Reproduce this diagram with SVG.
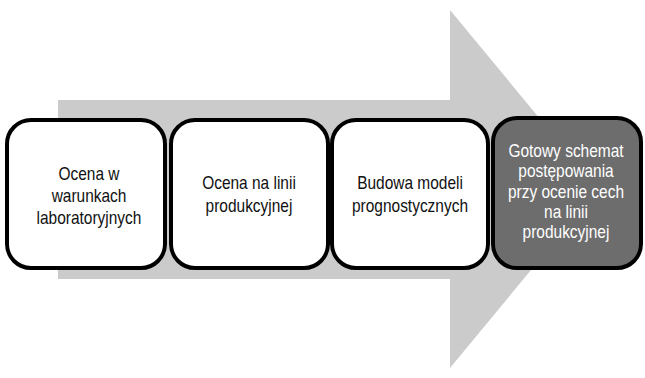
<svg xmlns="http://www.w3.org/2000/svg" width="645" height="378" viewBox="0 0 645 378">
<style>
.box{stroke:#000;stroke-width:4;}
.w{fill:#fff;}
.d{fill:#6d6d6d;}
text{font-family:"Liberation Sans",Arial,sans-serif;font-size:18px;text-anchor:middle;}
.tb{fill:#111;}
.tw{fill:#fff;}
</style>
<rect width="645" height="378" fill="#fff"/>
<g id="arrow">
<polygon points="58,100 450,100 450,10 598,189 450,368 450,279 58,279" fill="#cbcbcb"/>
</g>
<g id="connectors"></g>
<g id="node1">
<rect class="box w" x="7" y="120" width="158" height="148" rx="24"/>
<text class="tb" transform="translate(89,0) scale(0.86,1)"><tspan x="0" y="180">Ocena w</tspan><tspan x="0" y="202">warunkach</tspan><tspan x="0" y="224">laboratoryjnych</tspan></text>
</g>
<g id="node2">
<rect class="box w" x="171" y="120" width="157" height="148" rx="24"/>
<text class="tb" transform="translate(249,0) scale(0.86,1)"><tspan x="0" y="189">Ocena na linii</tspan><tspan x="0" y="212">produkcyjnej</tspan></text>
</g>
<g id="node3">
<rect class="box w" x="332" y="120" width="156" height="148" rx="24"/>
<text class="tb" transform="translate(410,0) scale(0.86,1)"><tspan x="0" y="189">Budowa modeli</tspan><tspan x="0" y="212">prognostycznych</tspan></text>
</g>
<g id="node4">
<rect class="box d" x="493" y="118" width="148" height="150" rx="24"/>
<text class="tw" transform="translate(566,0) scale(0.86,1)"><tspan x="0" y="157">Gotowy schemat</tspan><tspan x="0" y="177">postępowania</tspan><tspan x="0" y="198">przy ocenie cech</tspan><tspan x="0" y="218">na linii</tspan><tspan x="0" y="238">produkcyjnej</tspan></text>
</g>
</svg>
